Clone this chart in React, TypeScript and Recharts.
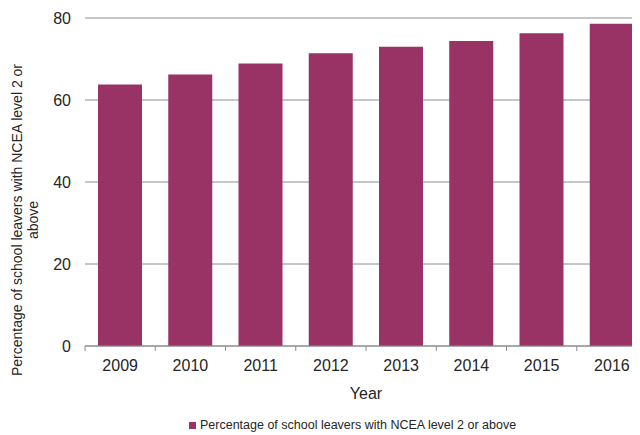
import { Bar, BarChart, CartesianGrid, Legend, XAxis, YAxis } from "recharts";

const years = ["2009", "2010", "2011", "2012", "2013", "2014", "2015", "2016"];
const leavers = [63.8, 66.2, 68.9, 71.4, 73.0, 74.4, 76.3, 78.6];
const yTicks = [0, 20, 40, 60, 80];

const seriesName = "Percentage of school leavers with NCEA level 2 or above";
const barColor = "#993366";
const font = "'Liberation Sans', Arial, sans-serif";

const data = years.map((year, i) => ({ year, value: leavers[i] }));

const YearTick = (props: any) => {
  const { x, y, payload } = props;
  const left = payload.coordinate - payload.offset;
  return (
    <g>
      <line x1={left} x2={left} y1={y - 14} y2={y - 9} stroke="#8c8c8c" />
      <text x={x} y={y} dy="0.71em" textAnchor="middle" fontSize={16} fill="#262626" fontFamily={font}>
        {payload.value}
      </text>
    </g>
  );
};

const YLabel = () => (
  <text transform="rotate(-90 21.5 220)" x={21.5} y={220} textAnchor="middle" fontSize={14} fill="#262626" fontFamily={font}>
    <tspan x={21.5}>Percentage of school leavers with NCEA level 2 or</tspan>
    <tspan x={21.5} dy={16.5}>above</tspan>
  </text>
);

const LegendBox = () => (
  <div style={{ paddingLeft: 189, fontFamily: font, fontSize: 12.5, color: "#262626", lineHeight: "16px", whiteSpace: "nowrap" }}>
    <span style={{ display: "inline-block", width: 7, height: 7, background: barColor, marginRight: 4 }} />
    {seriesName}
  </div>
);

export default function App() {
  return (
    <div style={{ marginTop: -8, marginLeft: -8, width: 640, height: 435, overflow: "hidden" }}>
      <BarChart width={660} height={435} data={data} margin={{ top: 18, right: 13, bottom: 13, left: 0 }}>
        <CartesianGrid vertical={false} stroke="#8c8c8c" />
        <XAxis
          dataKey="year"
          height={60}
          tick={<YearTick />}
          tickLine={false}
          tickSize={5}
          tickMargin={9}
          axisLine={{ stroke: "#8c8c8c" }}
          label={{ value: "Year", position: "insideBottom", offset: 7, fontSize: 16, fill: "#262626", fontFamily: font }}
        />
        <YAxis
          width={85}
          domain={[0, 80]}
          ticks={yTicks}
          axisLine={false}
          tickLine={false}
          tickSize={0}
          tickMargin={14}
          tick={{ fontSize: 16, fill: "#262626", fontFamily: font }}
          label={<YLabel />}
        />
        <Legend
          verticalAlign="bottom"
          content={<LegendBox />}
          wrapperStyle={{ left: 0, top: 417, bottom: "auto", width: 660, height: 16, overflow: "visible" }}
        />
        <Bar dataKey="value" name={seriesName} fill={barColor} barSize={44} isAnimationActive={false} />
      </BarChart>
    </div>
  );
}
